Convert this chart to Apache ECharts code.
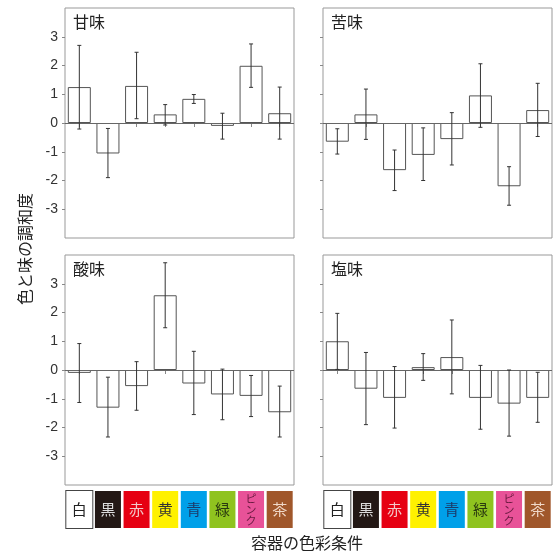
<!DOCTYPE html>
<html>
<head>
<meta charset="utf-8">
<script src="https://cdn.jsdelivr.net/npm/echarts@6/dist/echarts.min.js"></script>
<style>
  html, body { margin: 0; padding: 0; background: #fff; }
  #chart { width: 559px; height: 554px; }
</style>
</head>
<body>
<div id="chart"></div>
<script>
// 容器の色
const categories = ['白', '黒', '赤', '黄', '青', '緑', 'ピンク', '茶'];
const boxColors = ['#ffffff', '#231815', '#e60012', '#fff100', '#00a0e9', '#8fc31f', '#e85298', '#a0572b'];
const boxTextColors = ['#222', '#ddd', '#f3c9c9', '#333', '#1a3b6b', '#2a3a10', '#6a1a40', '#f0d8c8'];
const yTicks = [-3, -2, -1, 0, 1, 2, 3];

// 甘味
const sweetMean = [1.25, -1.06, 1.29, 0.30, 0.84, -0.10, 1.99, 0.34];
const sweetUpper = [2.70, -0.19, 2.46, 0.64, 0.99, 0.34, 2.75, 1.25];
const sweetLower = [-0.21, -1.90, 0.15, -0.07, 0.68, -0.56, 1.24, -0.56];
// 苦味
const bitterMean = [-0.65, 0.30, -1.64, -1.11, -0.56, 0.96, -2.20, 0.45];
const bitterUpper = [-0.20, 1.18, -0.94, -0.17, 0.36, 2.06, -1.52, 1.38];
const bitterLower = [-1.08, -0.57, -2.35, -2.00, -1.46, -0.15, -2.86, -0.47];
// 酸味
const sourMean = [-0.10, -1.31, -0.56, 2.60, -0.47, -0.85, -0.90, -1.47];
const sourUpper = [0.92, -0.25, 0.29, 3.73, 0.65, 0.03, -0.19, -0.56];
const sourLower = [-1.13, -2.33, -1.40, 1.47, -1.55, -1.73, -1.62, -2.33];
// 塩味
const saltyMean = [1.00, -0.65, -0.97, 0.10, 0.45, -0.97, -1.17, -0.97];
const saltyUpper = [1.97, 0.61, 0.12, 0.57, 1.74, 0.16, 0.00, -0.08];
const saltyLower = [0.02, -1.90, -2.02, -0.36, -0.83, -2.06, -2.30, -1.82];

const panels = [
  { name: '甘味', mean: sweetMean, upper: sweetUpper, lower: sweetLower, left: 65, top: 8, yLabel: true, xLabel: false },
  { name: '苦味', mean: bitterMean, upper: bitterUpper, lower: bitterLower, left: 323, top: 8, yLabel: false, xLabel: false },
  { name: '酸味', mean: sourMean, upper: sourUpper, lower: sourLower, left: 65, top: 255, yLabel: true, xLabel: true },
  { name: '塩味', mean: saltyMean, upper: saltyUpper, lower: saltyLower, left: 323, top: 255, yLabel: false, xLabel: true }
];

const font = '"Noto Sans CJK JP", "Noto Sans", sans-serif';

const chart = echarts.init(document.getElementById('chart'));

const grid = [], xAxis = [], yAxis = [], series = [], title = [];

panels.forEach((p, i) => {
  grid.push({
    left: p.left, top: p.top, width: 229, height: 230,
    show: true, borderColor: '#999', borderWidth: 1, backgroundColor: '#fff'
  });
  title.push({
    text: p.name, left: p.left + 3, top: p.top + 1,
    textStyle: { fontFamily: font, fontSize: 16, fontWeight: 'normal', color: '#222' }
  });
  xAxis.push({
    type: 'category', gridIndex: i,
    data: categories.map((c, k) => ({
      value: c,
      textStyle: c === 'ピンク'
        ? { backgroundColor: boxColors[k], color: boxTextColors[k], fontSize: 11, lineHeight: 11, padding: [2, 7.5, 2, 7.5] }
        : { backgroundColor: boxColors[k], color: boxTextColors[k], fontSize: 15, lineHeight: 15, padding: [11, 5.5, 11, 5.5],
            borderColor: k === 0 ? '#444' : 'transparent', borderWidth: k === 0 ? 1 : 0 }
    })),
    boundaryGap: true,
    axisLine: { show: false },
    axisTick: { show: true, alignWithLabel: true, length: 4, lineStyle: { color: '#888' } },
    axisLabel: {
      show: p.xLabel, margin: 6, interval: 0, fontFamily: font,
      formatter: v => v === 'ピンク' ? 'ピ\nン\nク' : v
    },
    splitLine: { show: false }
  });
  yAxis.push({
    type: 'value', gridIndex: i, min: -4, max: 4, interval: 1,
    axisLine: { show: false },
    axisTick: { show: true, length: 3, customValues: yTicks, lineStyle: { color: '#888' } },
    axisLabel: { show: p.yLabel, customValues: yTicks, fontSize: 14, color: '#333', margin: 7, fontFamily: 'Liberation Sans, Arial, sans-serif' },
    splitLine: { show: false }
  });
  series.push({
    type: 'bar', xAxisIndex: i, yAxisIndex: i,
    data: p.mean, barWidth: 23,
    itemStyle: { color: '#fff', borderColor: '#555', borderWidth: 1 },
    silent: true
  });
  series.push({
    type: 'custom', xAxisIndex: i, yAxisIndex: i, z: 5,
    data: p.mean.map((m, k) => [k, p.lower[k], p.upper[k]]),
    renderItem: (params, api) => {
      const lo = api.coord([api.value(0), api.value(1)]);
      const hi = api.coord([api.value(0), api.value(2)]);
      const cap = 2;
      const style = { stroke: '#333', lineWidth: 1 };
      return {
        type: 'group',
        children: [
          { type: 'line', shape: { x1: lo[0], y1: lo[1], x2: hi[0], y2: hi[1] }, style },
          { type: 'line', shape: { x1: lo[0] - cap, y1: lo[1], x2: lo[0] + cap, y2: lo[1] }, style },
          { type: 'line', shape: { x1: hi[0] - cap, y1: hi[1], x2: hi[0] + cap, y2: hi[1] }, style }
        ]
      };
    },
    markLine: {
      silent: true, symbol: 'none', label: { show: false },
      lineStyle: { color: '#666', type: 'solid', width: 1 },
      data: [{ yAxis: 0 }]
    }
  });
});

const option = {
  animation: false,
  backgroundColor: '#fff',
  title: title,
  grid: grid,
  xAxis: xAxis,
  yAxis: yAxis,
  series: series,
  graphic: [
    {
      type: 'text', x: 25, y: 249, rotation: Math.PI / 2,
      style: { text: '色と味の調和度', font: '16px ' + font, fill: '#222', align: 'center', verticalAlign: 'middle' }
    },
    {
      type: 'text', x: 307, y: 543,
      style: { text: '容器の色彩条件', font: '16px ' + font, fill: '#222', align: 'center', verticalAlign: 'middle' }
    }
  ]
};

chart.setOption(option);
</script>
</body>
</html>
